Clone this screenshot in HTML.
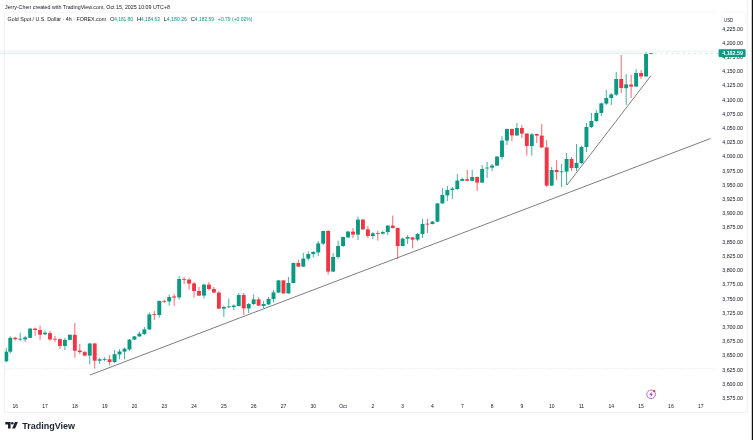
<!DOCTYPE html>
<html><head><meta charset="utf-8"><title>XAUUSD chart</title>
<style>
html,body{margin:0;padding:0;background:#fff;}
body{width:753px;height:440px;overflow:hidden;font-family:"Liberation Sans",sans-serif;}
svg{display:block;font-family:"Liberation Sans",sans-serif;}
text{font-family:"Liberation Sans",sans-serif;}
</style></head><body>
<svg width="753" height="440" viewBox="0 0 753 440">
<defs><filter id="gs" x="0" y="0" width="753" height="440" filterUnits="userSpaceOnUse"><feGaussianBlur stdDeviation="0.3"/></filter><clipPath id="cp"><rect x="4.5" y="0" width="740" height="440"/></clipPath></defs>
<rect width="753" height="440" fill="#fff"/>
<g filter="url(#gs)">
<!-- frame lines -->
<path d="M4.5 12V412.3" stroke="#f0f0f0" stroke-width="1"/>
<path d="M4.5 12H716" stroke="#f4f4f4" stroke-width="1"/>
<path d="M4 412.3H748" stroke="#efefef" stroke-width="1"/>
<path d="M752.4 0V440" stroke="#111" stroke-width="1.2"/>
<path d="M747.3 0V412" stroke="#f1f1f1" stroke-width="1.2"/>
<!-- dotted lines -->
<path d="M5 368.5H716" stroke="#e2e4e9" stroke-width="0.8" stroke-dasharray="1.2 1.6"/>
<path d="M0 51.2H716" stroke="#eceef1" stroke-width="0.9"/>
<path d="M0 53.3H646" stroke="#d3ebe7" stroke-width="0.9"/>
<path d="M655 53.3H718" stroke="#a5d8cf" stroke-width="0.8" stroke-dasharray="1.6 4"/>
<!-- trend lines -->
<path d="M90 375L710.5 138.5" stroke="#484b53" stroke-width="0.72" fill="none"/>
<path d="M567 185L651 75.6" stroke="#484b53" stroke-width="0.72" fill="none"/>
<!-- candles -->
<g clip-path="url(#cp)">
<path d="M6.30 348.0V362.3" stroke="#089981" stroke-width="0.75"/><rect x="4.35" y="351.7" width="3.9" height="9.6" fill="#089981"/>
<path d="M10.27 336.4V353.6" stroke="#089981" stroke-width="0.75"/><rect x="8.32" y="337.8" width="3.9" height="13.9" fill="#089981"/>
<path d="M15.23 336.8V340.5" stroke="#f23645" stroke-width="0.75"/><rect x="13.28" y="337.8" width="3.9" height="1.4" fill="#f23645"/>
<path d="M20.20 332.7V340.9" stroke="#089981" stroke-width="0.75"/><rect x="18.25" y="338.8" width="3.9" height="0.8" fill="#089981"/>
<path d="M25.17 335.8V341.9" stroke="#089981" stroke-width="0.75"/><rect x="23.22" y="337.4" width="3.9" height="2.0" fill="#089981"/>
<path d="M30.13 328.2V338.2" stroke="#089981" stroke-width="0.75"/><rect x="28.18" y="328.6" width="3.9" height="9.2" fill="#089981"/>
<path d="M35.10 327.6V335.8" stroke="#f23645" stroke-width="0.75"/><rect x="33.15" y="328.6" width="3.9" height="1.4" fill="#f23645"/>
<path d="M40.07 325.6V339.9" stroke="#f23645" stroke-width="0.75"/><rect x="38.12" y="330.0" width="3.9" height="4.7" fill="#f23645"/>
<path d="M45.04 330.7V335.2" stroke="#089981" stroke-width="0.75"/><rect x="43.09" y="332.7" width="3.9" height="1.6" fill="#089981"/>
<path d="M50.00 330.7V340.9" stroke="#f23645" stroke-width="0.75"/><rect x="48.05" y="333.1" width="3.9" height="6.3" fill="#f23645"/>
<path d="M54.97 335.8V341.9" stroke="#f23645" stroke-width="0.75"/><rect x="53.02" y="338.8" width="3.9" height="0.8" fill="#f23645"/>
<path d="M59.94 338.4V349.1" stroke="#f23645" stroke-width="0.75"/><rect x="57.99" y="339.2" width="3.9" height="6.7" fill="#f23645"/>
<path d="M64.90 337.8V350.1" stroke="#089981" stroke-width="0.75"/><rect x="62.95" y="339.9" width="3.9" height="6.1" fill="#089981"/>
<path d="M69.87 334.3V340.3" stroke="#089981" stroke-width="0.75"/><rect x="67.92" y="334.8" width="3.9" height="5.1" fill="#089981"/>
<path d="M74.84 322.9V357.6" stroke="#f23645" stroke-width="0.75"/><rect x="72.89" y="334.8" width="3.9" height="15.9" fill="#f23645"/>
<path d="M79.80 343.9V354.2" stroke="#f23645" stroke-width="0.75"/><rect x="77.85" y="350.5" width="3.9" height="1.6" fill="#f23645"/>
<path d="M84.77 351.1V356.2" stroke="#f23645" stroke-width="0.75"/><rect x="82.82" y="352.1" width="3.9" height="3.5" fill="#f23645"/>
<path d="M89.74 342.9V364.4" stroke="#089981" stroke-width="0.75"/><rect x="87.79" y="343.5" width="3.9" height="12.1" fill="#089981"/>
<path d="M94.71 342.9V368.5" stroke="#f23645" stroke-width="0.75"/><rect x="92.76" y="343.5" width="3.9" height="17.2" fill="#f23645"/>
<path d="M99.67 357.8V363.8" stroke="#089981" stroke-width="0.75"/><rect x="97.72" y="359.3" width="3.9" height="1.4" fill="#089981"/>
<path d="M104.64 357.2V361.3" stroke="#089981" stroke-width="0.75"/><rect x="102.69" y="359.0" width="3.9" height="0.8" fill="#089981"/>
<path d="M109.61 355.2V365.4" stroke="#f23645" stroke-width="0.75"/><rect x="107.66" y="359.3" width="3.9" height="2.7" fill="#f23645"/>
<path d="M114.57 350.1V363.0" stroke="#089981" stroke-width="0.75"/><rect x="112.62" y="354.2" width="3.9" height="7.8" fill="#089981"/>
<path d="M119.54 349.1V359.3" stroke="#089981" stroke-width="0.75"/><rect x="117.59" y="351.5" width="3.9" height="2.9" fill="#089981"/>
<path d="M124.51 347.6V359.3" stroke="#089981" stroke-width="0.75"/><rect x="122.56" y="348.7" width="3.9" height="2.9" fill="#089981"/>
<path d="M129.47 339.0V351.0" stroke="#089981" stroke-width="0.75"/><rect x="127.52" y="339.6" width="3.9" height="9.8" fill="#089981"/>
<path d="M134.44 336.0V340.0" stroke="#089981" stroke-width="0.75"/><rect x="132.49" y="336.4" width="3.9" height="3.2" fill="#089981"/>
<path d="M139.41 331.6V337.0" stroke="#089981" stroke-width="0.75"/><rect x="137.46" y="333.6" width="3.9" height="2.8" fill="#089981"/>
<path d="M144.38 327.0V335.0" stroke="#089981" stroke-width="0.75"/><rect x="142.43" y="329.4" width="3.9" height="4.6" fill="#089981"/>
<path d="M149.34 312.4V330.0" stroke="#089981" stroke-width="0.75"/><rect x="147.39" y="314.4" width="3.9" height="15.0" fill="#089981"/>
<path d="M154.31 311.0V320.0" stroke="#f23645" stroke-width="0.75"/><rect x="152.36" y="314.0" width="3.9" height="0.8" fill="#f23645"/>
<path d="M159.28 300.4V317.6" stroke="#089981" stroke-width="0.75"/><rect x="157.33" y="301.0" width="3.9" height="14.0" fill="#089981"/>
<path d="M164.24 299.6V303.0" stroke="#f23645" stroke-width="0.75"/><rect x="162.29" y="300.9" width="3.9" height="0.8" fill="#f23645"/>
<path d="M169.21 294.4V305.6" stroke="#089981" stroke-width="0.75"/><rect x="167.26" y="297.0" width="3.9" height="4.4" fill="#089981"/>
<path d="M174.18 293.6V306.0" stroke="#f23645" stroke-width="0.75"/><rect x="172.23" y="296.4" width="3.9" height="1.2" fill="#f23645"/>
<path d="M179.15 276.0V299.6" stroke="#089981" stroke-width="0.75"/><rect x="177.20" y="279.0" width="3.9" height="18.4" fill="#089981"/>
<path d="M184.11 277.0V284.0" stroke="#f23645" stroke-width="0.75"/><rect x="182.16" y="279.0" width="3.9" height="0.8" fill="#f23645"/>
<path d="M189.08 278.0V289.6" stroke="#f23645" stroke-width="0.75"/><rect x="187.13" y="279.6" width="3.9" height="4.0" fill="#f23645"/>
<path d="M194.05 282.0V297.4" stroke="#f23645" stroke-width="0.75"/><rect x="192.10" y="283.4" width="3.9" height="7.6" fill="#f23645"/>
<path d="M199.01 287.0V296.0" stroke="#f23645" stroke-width="0.75"/><rect x="197.06" y="291.0" width="3.9" height="4.6" fill="#f23645"/>
<path d="M203.98 284.0V298.6" stroke="#089981" stroke-width="0.75"/><rect x="202.03" y="284.6" width="3.9" height="11.0" fill="#089981"/>
<path d="M208.95 282.0V290.6" stroke="#f23645" stroke-width="0.75"/><rect x="207.00" y="284.6" width="3.9" height="4.4" fill="#f23645"/>
<path d="M213.91 287.0V293.0" stroke="#f23645" stroke-width="0.75"/><rect x="211.96" y="289.0" width="3.9" height="3.6" fill="#f23645"/>
<path d="M218.88 291.0V309.0" stroke="#f23645" stroke-width="0.75"/><rect x="216.93" y="292.6" width="3.9" height="16.0" fill="#f23645"/>
<path d="M223.85 306.0V317.0" stroke="#089981" stroke-width="0.75"/><rect x="221.90" y="307.0" width="3.9" height="1.6" fill="#089981"/>
<path d="M228.81 298.6V308.0" stroke="#089981" stroke-width="0.75"/><rect x="226.87" y="306.5" width="3.9" height="0.8" fill="#089981"/>
<path d="M233.78 304.4V310.0" stroke="#089981" stroke-width="0.75"/><rect x="231.83" y="305.6" width="3.9" height="1.4" fill="#089981"/>
<path d="M238.75 293.0V306.4" stroke="#089981" stroke-width="0.75"/><rect x="236.80" y="295.0" width="3.9" height="11.0" fill="#089981"/>
<path d="M243.72 293.0V315.0" stroke="#f23645" stroke-width="0.75"/><rect x="241.77" y="295.0" width="3.9" height="13.4" fill="#f23645"/>
<path d="M248.68 303.0V313.0" stroke="#089981" stroke-width="0.75"/><rect x="246.73" y="304.0" width="3.9" height="4.4" fill="#089981"/>
<path d="M253.65 294.4V305.0" stroke="#089981" stroke-width="0.75"/><rect x="251.70" y="299.4" width="3.9" height="4.6" fill="#089981"/>
<path d="M258.62 297.4V306.0" stroke="#f23645" stroke-width="0.75"/><rect x="256.67" y="299.4" width="3.9" height="6.2" fill="#f23645"/>
<path d="M263.58 301.0V308.0" stroke="#089981" stroke-width="0.75"/><rect x="261.63" y="304.0" width="3.9" height="2.0" fill="#089981"/>
<path d="M268.55 297.0V305.0" stroke="#089981" stroke-width="0.75"/><rect x="266.60" y="299.0" width="3.9" height="5.4" fill="#089981"/>
<path d="M273.52 290.0V302.4" stroke="#089981" stroke-width="0.75"/><rect x="271.57" y="292.4" width="3.9" height="6.6" fill="#089981"/>
<path d="M278.49 280.0V293.0" stroke="#089981" stroke-width="0.75"/><rect x="276.54" y="280.4" width="3.9" height="12.2" fill="#089981"/>
<path d="M283.45 280.0V293.8" stroke="#f23645" stroke-width="0.75"/><rect x="281.50" y="280.4" width="3.9" height="13.0" fill="#f23645"/>
<path d="M288.42 277.0V293.8" stroke="#089981" stroke-width="0.75"/><rect x="286.47" y="283.0" width="3.9" height="10.4" fill="#089981"/>
<path d="M293.39 262.6V283.4" stroke="#089981" stroke-width="0.75"/><rect x="291.44" y="263.0" width="3.9" height="20.0" fill="#089981"/>
<path d="M298.35 259.6V267.0" stroke="#f23645" stroke-width="0.75"/><rect x="296.40" y="263.0" width="3.9" height="3.6" fill="#f23645"/>
<path d="M303.32 253.0V267.0" stroke="#089981" stroke-width="0.75"/><rect x="301.37" y="258.6" width="3.9" height="8.0" fill="#089981"/>
<path d="M308.29 251.4V260.6" stroke="#089981" stroke-width="0.75"/><rect x="306.34" y="254.0" width="3.9" height="4.6" fill="#089981"/>
<path d="M313.25 251.0V257.4" stroke="#089981" stroke-width="0.75"/><rect x="311.30" y="252.0" width="3.9" height="2.0" fill="#089981"/>
<path d="M318.22 241.0V256.0" stroke="#089981" stroke-width="0.75"/><rect x="316.27" y="243.4" width="3.9" height="9.0" fill="#089981"/>
<path d="M323.19 230.6V245.0" stroke="#089981" stroke-width="0.75"/><rect x="321.24" y="231.0" width="3.9" height="12.6" fill="#089981"/>
<path d="M328.15 230.0V274.6" stroke="#f23645" stroke-width="0.75"/><rect x="326.20" y="231.0" width="3.9" height="40.6" fill="#f23645"/>
<path d="M333.12 253.0V272.0" stroke="#089981" stroke-width="0.75"/><rect x="331.17" y="257.0" width="3.9" height="14.6" fill="#089981"/>
<path d="M338.09 240.6V258.6" stroke="#089981" stroke-width="0.75"/><rect x="336.14" y="246.0" width="3.9" height="11.0" fill="#089981"/>
<path d="M343.06 236.6V247.0" stroke="#089981" stroke-width="0.75"/><rect x="341.11" y="237.0" width="3.9" height="9.0" fill="#089981"/>
<path d="M348.02 231.0V238.0" stroke="#089981" stroke-width="0.75"/><rect x="346.07" y="231.6" width="3.9" height="5.8" fill="#089981"/>
<path d="M352.99 228.0V238.0" stroke="#f23645" stroke-width="0.75"/><rect x="351.04" y="231.6" width="3.9" height="3.0" fill="#f23645"/>
<path d="M357.96 216.6V240.0" stroke="#089981" stroke-width="0.75"/><rect x="356.01" y="219.6" width="3.9" height="15.0" fill="#089981"/>
<path d="M362.92 219.0V230.0" stroke="#f23645" stroke-width="0.75"/><rect x="360.97" y="219.6" width="3.9" height="9.8" fill="#f23645"/>
<path d="M367.89 226.0V238.0" stroke="#f23645" stroke-width="0.75"/><rect x="365.94" y="229.4" width="3.9" height="6.6" fill="#f23645"/>
<path d="M372.86 232.0V239.0" stroke="#089981" stroke-width="0.75"/><rect x="370.91" y="233.4" width="3.9" height="2.6" fill="#089981"/>
<path d="M377.82 230.6V240.6" stroke="#f23645" stroke-width="0.75"/><rect x="375.88" y="233.0" width="3.9" height="0.8" fill="#f23645"/>
<path d="M382.79 230.6V234.6" stroke="#089981" stroke-width="0.75"/><rect x="380.84" y="232.0" width="3.9" height="1.6" fill="#089981"/>
<path d="M387.76 225.0V235.0" stroke="#089981" stroke-width="0.75"/><rect x="385.81" y="225.6" width="3.9" height="6.4" fill="#089981"/>
<path d="M392.73 215.6V228.4" stroke="#f23645" stroke-width="0.75"/><rect x="390.78" y="225.6" width="3.9" height="2.4" fill="#f23645"/>
<path d="M397.69 227.6V259.0" stroke="#f23645" stroke-width="0.75"/><rect x="395.74" y="228.0" width="3.9" height="18.0" fill="#f23645"/>
<path d="M402.66 237.6V246.4" stroke="#089981" stroke-width="0.75"/><rect x="400.71" y="238.6" width="3.9" height="7.4" fill="#089981"/>
<path d="M407.63 235.0V244.0" stroke="#089981" stroke-width="0.75"/><rect x="405.68" y="237.0" width="3.9" height="1.6" fill="#089981"/>
<path d="M412.59 237.0V248.4" stroke="#f23645" stroke-width="0.75"/><rect x="410.64" y="237.4" width="3.9" height="2.2" fill="#f23645"/>
<path d="M417.56 233.0V241.0" stroke="#089981" stroke-width="0.75"/><rect x="415.61" y="234.0" width="3.9" height="5.6" fill="#089981"/>
<path d="M422.53 219.0V238.0" stroke="#089981" stroke-width="0.75"/><rect x="420.58" y="224.0" width="3.9" height="10.0" fill="#089981"/>
<path d="M427.50 219.0V233.0" stroke="#f23645" stroke-width="0.75"/><rect x="425.55" y="223.7" width="3.9" height="0.8" fill="#f23645"/>
<path d="M432.46 221.0V224.4" stroke="#089981" stroke-width="0.75"/><rect x="430.51" y="221.6" width="3.9" height="2.4" fill="#089981"/>
<path d="M437.43 203.0V222.0" stroke="#089981" stroke-width="0.75"/><rect x="435.48" y="203.4" width="3.9" height="18.2" fill="#089981"/>
<path d="M442.40 188.0V204.0" stroke="#089981" stroke-width="0.75"/><rect x="440.45" y="195.0" width="3.9" height="8.4" fill="#089981"/>
<path d="M447.36 186.0V201.0" stroke="#089981" stroke-width="0.75"/><rect x="445.41" y="190.0" width="3.9" height="5.4" fill="#089981"/>
<path d="M452.33 187.0V199.0" stroke="#089981" stroke-width="0.75"/><rect x="450.38" y="188.6" width="3.9" height="1.4" fill="#089981"/>
<path d="M457.30 174.0V190.0" stroke="#089981" stroke-width="0.75"/><rect x="455.35" y="180.6" width="3.9" height="8.4" fill="#089981"/>
<path d="M462.26 177.6V181.2" stroke="#089981" stroke-width="0.75"/><rect x="460.31" y="179.0" width="3.9" height="1.8" fill="#089981"/>
<path d="M467.23 170.0V181.2" stroke="#f23645" stroke-width="0.75"/><rect x="465.28" y="179.2" width="3.9" height="1.6" fill="#f23645"/>
<path d="M472.20 170.0V181.2" stroke="#089981" stroke-width="0.75"/><rect x="470.25" y="177.0" width="3.9" height="3.8" fill="#089981"/>
<path d="M477.16 176.6V191.0" stroke="#f23645" stroke-width="0.75"/><rect x="475.21" y="177.0" width="3.9" height="5.6" fill="#f23645"/>
<path d="M482.13 165.0V183.0" stroke="#089981" stroke-width="0.75"/><rect x="480.18" y="169.0" width="3.9" height="13.6" fill="#089981"/>
<path d="M487.10 162.0V178.0" stroke="#089981" stroke-width="0.75"/><rect x="485.15" y="167.6" width="3.9" height="0.8" fill="#089981"/>
<path d="M492.07 164.0V171.0" stroke="#089981" stroke-width="0.75"/><rect x="490.12" y="165.6" width="3.9" height="2.0" fill="#089981"/>
<path d="M497.03 156.0V166.0" stroke="#089981" stroke-width="0.75"/><rect x="495.08" y="156.6" width="3.9" height="9.0" fill="#089981"/>
<path d="M502.00 136.0V159.6" stroke="#089981" stroke-width="0.75"/><rect x="500.05" y="140.6" width="3.9" height="16.4" fill="#089981"/>
<path d="M506.97 128.6V145.0" stroke="#089981" stroke-width="0.75"/><rect x="505.02" y="129.0" width="3.9" height="11.6" fill="#089981"/>
<path d="M511.93 128.6V141.4" stroke="#f23645" stroke-width="0.75"/><rect x="509.98" y="129.0" width="3.9" height="6.4" fill="#f23645"/>
<path d="M516.90 123.0V136.0" stroke="#089981" stroke-width="0.75"/><rect x="514.95" y="128.0" width="3.9" height="7.4" fill="#089981"/>
<path d="M521.87 125.0V138.0" stroke="#f23645" stroke-width="0.75"/><rect x="519.92" y="128.0" width="3.9" height="5.6" fill="#f23645"/>
<path d="M526.83 133.0V155.6" stroke="#f23645" stroke-width="0.75"/><rect x="524.88" y="133.6" width="3.9" height="12.4" fill="#f23645"/>
<path d="M531.80 133.0V155.6" stroke="#089981" stroke-width="0.75"/><rect x="529.85" y="134.4" width="3.9" height="11.6" fill="#089981"/>
<path d="M536.77 133.6V143.0" stroke="#f23645" stroke-width="0.75"/><rect x="534.82" y="134.0" width="3.9" height="1.6" fill="#f23645"/>
<path d="M541.74 124.0V148.0" stroke="#f23645" stroke-width="0.75"/><rect x="539.79" y="135.6" width="3.9" height="11.8" fill="#f23645"/>
<path d="M546.70 140.0V187.0" stroke="#f23645" stroke-width="0.75"/><rect x="544.75" y="147.4" width="3.9" height="38.2" fill="#f23645"/>
<path d="M551.67 167.0V186.0" stroke="#089981" stroke-width="0.75"/><rect x="549.72" y="170.0" width="3.9" height="15.6" fill="#089981"/>
<path d="M556.64 160.0V180.0" stroke="#f23645" stroke-width="0.75"/><rect x="554.69" y="170.0" width="3.9" height="2.0" fill="#f23645"/>
<path d="M561.60 164.0V187.0" stroke="#089981" stroke-width="0.75"/><rect x="559.65" y="171.4" width="3.9" height="0.8" fill="#089981"/>
<path d="M566.57 153.0V185.0" stroke="#089981" stroke-width="0.75"/><rect x="564.62" y="159.0" width="3.9" height="12.6" fill="#089981"/>
<path d="M571.54 157.0V171.0" stroke="#f23645" stroke-width="0.75"/><rect x="569.59" y="159.0" width="3.9" height="9.0" fill="#f23645"/>
<path d="M576.50 144.0V171.0" stroke="#089981" stroke-width="0.75"/><rect x="574.55" y="163.0" width="3.9" height="5.0" fill="#089981"/>
<path d="M581.47 145.6V164.0" stroke="#089981" stroke-width="0.75"/><rect x="579.52" y="147.0" width="3.9" height="16.0" fill="#089981"/>
<path d="M586.44 123.0V152.0" stroke="#089981" stroke-width="0.75"/><rect x="584.49" y="127.0" width="3.9" height="20.0" fill="#089981"/>
<path d="M591.41 113.0V128.0" stroke="#089981" stroke-width="0.75"/><rect x="589.46" y="121.0" width="3.9" height="6.0" fill="#089981"/>
<path d="M596.37 110.0V122.0" stroke="#089981" stroke-width="0.75"/><rect x="594.42" y="113.0" width="3.9" height="8.0" fill="#089981"/>
<path d="M601.34 102.4V116.0" stroke="#089981" stroke-width="0.75"/><rect x="599.39" y="103.4" width="3.9" height="9.6" fill="#089981"/>
<path d="M606.31 90.0V105.0" stroke="#089981" stroke-width="0.75"/><rect x="604.36" y="98.0" width="3.9" height="5.6" fill="#089981"/>
<path d="M611.27 93.0V105.0" stroke="#089981" stroke-width="0.75"/><rect x="609.32" y="94.4" width="3.9" height="3.6" fill="#089981"/>
<path d="M616.24 72.0V96.0" stroke="#089981" stroke-width="0.75"/><rect x="614.29" y="79.0" width="3.9" height="15.6" fill="#089981"/>
<path d="M621.21 55.0V93.0" stroke="#f23645" stroke-width="0.75"/><rect x="619.26" y="79.0" width="3.9" height="9.0" fill="#f23645"/>
<path d="M626.17 74.0V105.0" stroke="#089981" stroke-width="0.75"/><rect x="624.22" y="84.4" width="3.9" height="3.8" fill="#089981"/>
<path d="M631.14 75.0V98.0" stroke="#f23645" stroke-width="0.75"/><rect x="629.19" y="84.6" width="3.9" height="2.0" fill="#f23645"/>
<path d="M636.11 69.0V87.0" stroke="#089981" stroke-width="0.75"/><rect x="634.16" y="73.0" width="3.9" height="13.6" fill="#089981"/>
<path d="M641.08 70.0V79.0" stroke="#f23645" stroke-width="0.75"/><rect x="639.13" y="73.0" width="3.9" height="3.4" fill="#f23645"/>
<path d="M646.04 52.0V77.0" stroke="#089981" stroke-width="0.75"/><rect x="644.09" y="54.0" width="3.9" height="22.4" fill="#089981"/>
<path d="M651.01 53.0V54.0" stroke="#089981" stroke-width="0.75"/><rect x="649.06" y="53.1" width="3.9" height="0.8" fill="#089981"/>
</g>
<!-- header -->
<g font-size="5.8" fill="#131722">
<text x="5" y="8.9" textLength="165" lengthAdjust="spacingAndGlyphs">Jerry-Chen created with TradingView.com, Oct 15, 2025 10:09 UTC+8</text>
<text x="7.6" y="20.8" textLength="98.5" lengthAdjust="spacingAndGlyphs">Gold Spot / U.S. Dollar · 4h · FOREX.com</text>
<text x="110.1" y="20.8">O</text><text x="114.2" y="20.8" fill="#089981" textLength="18.8" lengthAdjust="spacingAndGlyphs">4,181.80</text>
<text x="137.1" y="20.8">H</text><text x="141" y="20.8" fill="#089981" textLength="19" lengthAdjust="spacingAndGlyphs">4,184.63</text>
<text x="163.8" y="20.8">L</text><text x="166.8" y="20.8" fill="#089981" textLength="20.2" lengthAdjust="spacingAndGlyphs">4,180.26</text>
<text x="190.8" y="20.8">C</text><text x="194.8" y="20.8" fill="#089981" textLength="19.2" lengthAdjust="spacingAndGlyphs">4,182.59</text>
<text x="218" y="20.8" fill="#089981" textLength="34.4" lengthAdjust="spacingAndGlyphs">+0.79 (+0.02%)</text>
</g>
<!-- USD box -->
<rect x="721.6" y="12" width="24" height="12.4" rx="1.5" fill="#fff" stroke="#f0f1f4" stroke-width="0.6"/>
<text x="724" y="21.7" font-size="5.3" fill="#131722" textLength="9.2" lengthAdjust="spacingAndGlyphs">USD</text>
<!-- price axis -->
<g font-size="5.35" fill="#131722">
<text x="722.2" y="30.55">4,225.00</text>
<text x="722.2" y="44.76">4,200.00</text>
<text x="722.2" y="58.97">4,175.00</text>
<text x="722.2" y="73.17">4,150.00</text>
<text x="722.2" y="87.38">4,125.00</text>
<text x="722.2" y="101.59">4,100.00</text>
<text x="722.2" y="115.80">4,075.00</text>
<text x="722.2" y="130.01">4,050.00</text>
<text x="722.2" y="144.21">4,025.00</text>
<text x="722.2" y="158.42">4,000.00</text>
<text x="722.2" y="172.63">3,975.00</text>
<text x="722.2" y="186.84">3,950.00</text>
<text x="722.2" y="201.05">3,925.00</text>
<text x="722.2" y="215.25">3,900.00</text>
<text x="722.2" y="229.46">3,875.00</text>
<text x="722.2" y="243.67">3,850.00</text>
<text x="722.2" y="257.88">3,825.00</text>
<text x="722.2" y="272.09">3,800.00</text>
<text x="722.2" y="286.29">3,775.00</text>
<text x="722.2" y="300.50">3,750.00</text>
<text x="722.2" y="314.71">3,725.00</text>
<text x="722.2" y="328.92">3,700.00</text>
<text x="722.2" y="343.13">3,675.00</text>
<text x="722.2" y="357.33">3,650.00</text>
<text x="722.2" y="371.54">3,625.00</text>
<text x="722.2" y="385.75">3,600.00</text>
<text x="722.2" y="399.96">3,575.00</text>
</g>
<rect x="721.6" y="12" width="24" height="14.6" rx="1.5" fill="#fff" fill-opacity="0.0"/>
<!-- price label -->
<rect x="718.6" y="49.3" width="27" height="7.6" rx="0.8" fill="#089981"/>
<text x="722.2" y="55" font-size="5.35" fill="#fff" font-weight="bold" textLength="20.8" lengthAdjust="spacingAndGlyphs">4,182.59</text>
<!-- dates -->
<g font-size="5" fill="#131722">
<text x="15.3" y="408" text-anchor="middle">16</text>
<text x="45.1" y="408" text-anchor="middle">17</text>
<text x="74.9" y="408" text-anchor="middle">18</text>
<text x="104.7" y="408" text-anchor="middle">19</text>
<text x="134.5" y="408" text-anchor="middle">20</text>
<text x="164.3" y="408" text-anchor="middle">23</text>
<text x="194.1" y="408" text-anchor="middle">24</text>
<text x="223.9" y="408" text-anchor="middle">25</text>
<text x="253.7" y="408" text-anchor="middle">26</text>
<text x="283.5" y="408" text-anchor="middle">27</text>
<text x="313.3" y="408" text-anchor="middle">30</text>
<text x="343.1" y="408" text-anchor="middle">Oct</text>
<text x="372.9" y="408" text-anchor="middle">2</text>
<text x="402.7" y="408" text-anchor="middle">3</text>
<text x="432.5" y="408" text-anchor="middle">4</text>
<text x="462.3" y="408" text-anchor="middle">7</text>
<text x="492.1" y="408" text-anchor="middle">8</text>
<text x="521.9" y="408" text-anchor="middle">9</text>
<text x="551.7" y="408" text-anchor="middle">10</text>
<text x="581.5" y="408" text-anchor="middle">11</text>
<text x="611.3" y="408" text-anchor="middle">14</text>
<text x="641.1" y="408" text-anchor="middle">15</text>
<text x="670.9" y="408" text-anchor="middle">16</text>
<text x="700.7" y="408" text-anchor="middle">17</text>
</g>
<!-- lightning icon -->
<circle cx="651.1" cy="394.3" r="4.3" fill="#fff" stroke="#ab47bc" stroke-width="0.8"/>
<path d="M651.9 391.4L649.3 394.8H651.1L650.4 397.3L653 393.8H651.2Z" fill="#8e44c8"/>
<circle cx="654.2" cy="391.1" r="1.2" fill="#f23645"/>
<!-- TradingView logo -->
<g fill="#1e222d">
<path d="M5.3 422H10.6V428.6H8V424.6H5.3Z"/>
<circle cx="12.3" cy="423.3" r="1.3"/>
<path d="M14.9 422H17.9L15.1 428.6H12.1Z"/>
<text x="22.2" y="428.6" font-size="9.2" font-weight="bold" textLength="52.8" lengthAdjust="spacingAndGlyphs">TradingView</text>
</g>
</g>
</svg>
</body></html>
